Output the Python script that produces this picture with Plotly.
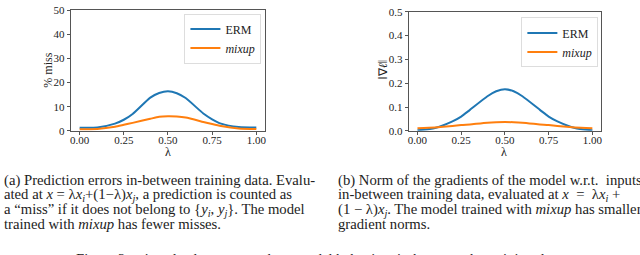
import plotly.graph_objects as go

lam = [0.0, 0.1, 0.2, 0.25, 0.3, 0.4, 0.45, 0.5, 0.55, 0.6, 0.7, 0.75, 0.8, 0.9, 1.0]
miss_erm = [1.3, 1.4, 3.0, 4.6, 7.0, 13.8, 15.7, 16.4, 15.6, 13.6, 7.2, 4.8, 3.0, 1.6, 1.4]
miss_mixup = [0.7, 0.8, 1.7, 2.5, 3.3, 5.0, 5.8, 6.0, 5.9, 5.5, 3.7, 2.8, 2.0, 1.0, 0.8]
grad_erm = [0.002, 0.012, 0.040, 0.060, 0.088, 0.145, 0.166, 0.175, 0.166, 0.145, 0.088, 0.060, 0.040, 0.012, 0.002]
grad_mixup = [0.011, 0.014, 0.020, 0.024, 0.027, 0.034, 0.036, 0.037, 0.036, 0.034, 0.027, 0.024, 0.020, 0.014, 0.011]

x_ticks = [0.0, 0.25, 0.5, 0.75, 1.0]
x_ticktext = ["0.00", "0.25", "0.50", "0.75", "1.00"]
y1_ticks = [0, 10, 20, 30, 40, 50]
y2_ticks = [0.0, 0.1, 0.2, 0.3, 0.4, 0.5]
y2_ticktext = ["0.0", "0.1", "0.2", "0.3", "0.4", "0.5"]

W, H = 640, 255
BLUE = "#1f77b4"
ORANGE = "#ff7f0e"
SERIF = "Liberation Serif, Times New Roman, serif"
TXT = "#222222"

def px(x):
    return x / W

def py(y):
    return 1 - y / H

line_style = dict(width=2, shape="spline", smoothing=0.6)
fig = go.Figure()
fig.add_trace(go.Scatter(x=lam, y=miss_erm, mode="lines", name="ERM", line=dict(color=BLUE, **line_style), xaxis="x", yaxis="y", legend="legend"))
fig.add_trace(go.Scatter(x=lam, y=miss_mixup, mode="lines", name="<i>mixup</i>", line=dict(color=ORANGE, **line_style), xaxis="x", yaxis="y", legend="legend"))
fig.add_trace(go.Scatter(x=lam, y=grad_erm, mode="lines", name="ERM", line=dict(color=BLUE, **line_style), xaxis="x2", yaxis="y2", legend="legend2"))
fig.add_trace(go.Scatter(x=lam, y=grad_mixup, mode="lines", name="<i>mixup</i>", line=dict(color=ORANGE, **line_style), xaxis="x2", yaxis="y2", legend="legend2"))

axis_common = dict(showgrid=False, zeroline=False, showline=True, linecolor="#555555", linewidth=1,
                   mirror=True, ticks="outside", ticklen=3, tickcolor="#555555", tickwidth=1,
                   ticklabeloverflow="allow",
                   tickfont=dict(family=SERIF, size=11, color=TXT))

fig.update_layout(
    width=W, height=H, margin=dict(l=0, r=0, t=0, b=0),
    paper_bgcolor="white", plot_bgcolor="white",
    showlegend=True,
    xaxis=dict(domain=[px(70), px(265)], range=[-0.05, 1.05], tickvals=x_ticks, ticktext=x_ticktext, anchor="y", ticklabelstandoff=-4, **axis_common),
    yaxis=dict(domain=[py(131), py(4.5)], range=[0, 50], tickvals=y1_ticks, anchor="x", **axis_common),
    xaxis2=dict(domain=[px(409), px(602)], range=[-0.05, 1.05], tickvals=x_ticks, ticktext=x_ticktext, anchor="y2", ticklabelstandoff=-4, **axis_common),
    yaxis2=dict(domain=[py(131), py(6)], range=[0, 0.5], tickvals=y2_ticks, ticktext=y2_ticktext, anchor="x2", **axis_common),
    legend=dict(x=px(184), y=py(8), xanchor="left", yanchor="top", bordercolor="#dddddd", borderwidth=1,
                bgcolor="white", font=dict(family=SERIF, size=12, color=TXT), tracegroupgap=0, itemwidth=30),
    legend2=dict(x=px(522), y=py(12), xanchor="left", yanchor="top", bordercolor="#dddddd", borderwidth=1,
                 bgcolor="white", font=dict(family=SERIF, size=12, color=TXT), tracegroupgap=0, itemwidth=30),
)

annos = []
def add_text(text, x, y, size=14.7, anchor="left", angle=0):
    annos.append(dict(text=text, x=px(x), y=py(y), xref="paper", yref="paper", showarrow=False,
                      xanchor=anchor, yanchor="middle", textangle=angle,
                      font=dict(family=SERIF, size=size, color=TXT)))

# axis titles
add_text("% miss", 47, 67, size=12, anchor="center", angle=-90)
add_text("‖∇<i>ℓ</i>‖", 383, 67, size=12, anchor="center", angle=-90)
add_text("λ", 168, 153, size=12, anchor="center")
add_text("λ", 505, 153, size=12, anchor="center")

# captions
left_lines = [
    "(a) Prediction errors in-between training data. Evalu-",
    "ated at <i>x</i> = λ<i>x<sub>i</sub></i>+(1−λ)<i>x<sub>j</sub></i>, a prediction is counted as",
    "a “miss” if it does not belong to {<i>y<sub>i</sub></i>, <i>y<sub>j</sub></i>}. The model",
    "trained with <i>mixup</i> has fewer misses.",
]
right_lines = [
    "(b) Norm of the gradients of the model w.r.t.  inputs",
    "in-between training data, evaluated at <i>x</i>  =  λ<i>x<sub>i</sub></i> +",
    "(1 − λ)<i>x<sub>j</sub></i>. The model trained with <i>mixup</i> has smaller",
    "gradient norms.",
]
line_y = [183, 198, 214, 229]
for t, y in zip(left_lines, line_y):
    add_text(t, 1, y)
for t, y in zip(right_lines, line_y):
    add_text(t, 336, y)

add_text("Figure 2: <i>mixup</i> leads to more robust model behaviors in-between the training data.", 320, 266, anchor="center")

fig.update_layout(annotations=annos)
fig.write_html("out.html", config={"displayModeBar": False},
               post_script="document.body.style.margin='0';document.body.style.padding='0';document.documentElement.style.overflow='hidden';")
